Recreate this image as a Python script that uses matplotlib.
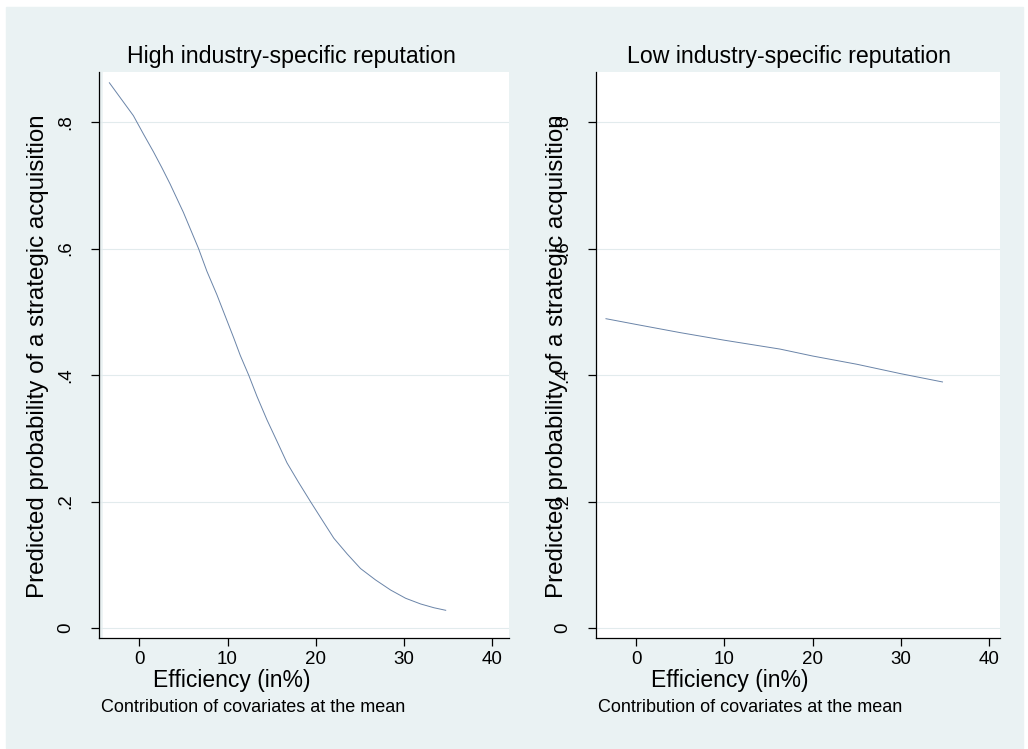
import matplotlib
matplotlib.use("Agg")
import matplotlib.pyplot as plt
from matplotlib.patches import Rectangle

plt.rcParams['font.family'] = ['Liberation Sans', 'DejaVu Sans']

# values
eff_high = [-3.39, -0.67, 0.47, 1.6, 2.55, 3.49, 5.0, 6.71, 7.66, 8.79, 9.74,
            10.69, 11.44, 12.39, 13.34, 14.47, 15.61, 16.74, 18.06, 19.39,
            20.71, 22.04, 23.56, 25.07, 26.77, 28.48, 30.18, 31.88, 33.39, 34.72]
prob_high = [0.862, 0.81, 0.781, 0.753, 0.728, 0.702, 0.657, 0.6, 0.564, 0.527, 0.493,
             0.459, 0.431, 0.4, 0.366, 0.329, 0.295, 0.261, 0.230, 0.2,
             0.171, 0.142, 0.117, 0.094, 0.076, 0.06, 0.047, 0.038, 0.032, 0.028]
eff_low = [-3.4, 0, 5, 10, 16.3, 20, 25, 30, 34.7]
prob_low = [0.489, 0.480, 0.467, 0.455, 0.441, 0.430, 0.417, 0.402, 0.389]

titles = ["High industry-specific reputation", "Low industry-specific reputation"]
xticks = [0, 10, 20, 30, 40]
yticks = [0, 0.2, 0.4, 0.6, 0.8]
ytick_labels = ["0", ".2", ".4", ".6", ".8"]
xlab = "Efficiency (in%)"
ylab = "Predicted probability of a strategic acquisition"
note = "Contribution of covariates at the mean"

bg = "#eaf2f3"
linec = "#6a84a8"
W, H = 1028, 749

fig = plt.figure(figsize=(W / 100, H / 100), dpi=100, facecolor="white")
fig.patches.append(Rectangle((6 / W, 1 - 748 / H), 1017 / W, 741 / H,
                             transform=fig.transFigure, color=bg, zorder=-10))

panels = [
    # axes left px, right px, x of 0 tick, px per unit, white gap
    (99, 509, 139.3, 8.825, 4),
    (596, 1000, 636.0, 8.8325, 0),
]
data = [(eff_high, prob_high), (eff_low, prob_low)]
title_x = [291.5, 789]
ylab_x = [44, 563]
xlab_x = [153, 651]
note_x = [101, 598]

top, bottom = 72, 638
y0, yscale = 628, 632.5

for i, (l, r, x0, xs, gap) in enumerate(panels):
    ax = fig.add_axes([l / W, 1 - bottom / H, (r - l) / W, (bottom - top) / H])
    ax.set_facecolor(bg)
    ax.add_patch(Rectangle((gap / (r - l), 0), 1, 1, transform=ax.transAxes,
                           color="white", zorder=0))
    ax.set_xlim((l - x0) / xs, (r - x0) / xs)
    ax.set_ylim((y0 - bottom) / yscale, (y0 - top) / yscale)
    ax.grid(axis="y", color="#e2ebed", lw=0.8, zorder=1)
    ax.set_axisbelow(True)
    x, y = data[i]
    ax.plot(x, y, color=linec, lw=0.7, zorder=3)

    for s in ["top", "right"]:
        ax.spines[s].set_visible(False)
    for s in ["left", "bottom"]:
        ax.spines[s].set_linewidth(0.9)
        ax.spines[s].set_color("black")

    ax.set_xticks(xticks)
    ax.set_xticklabels([str(t) for t in xticks])
    ax.set_yticks(yticks)
    ax.set_yticklabels(ytick_labels)
    ax.tick_params(axis="both", direction="out", length=5.8, width=0.9,
                   labelsize=13.5, colors="black")
    ax.tick_params(axis="x", pad=3.3)
    ax.tick_params(axis="y", pad=15.1)
    for lab in ax.get_yticklabels():
        lab.set_rotation(90)
        lab.set_rotation_mode("anchor")
        lab.set_ha("center")
        lab.set_va("baseline")

    fig.text(title_x[i] / W, 1 - 63 / H, titles[i], fontsize=16.7,
             ha="center", va="baseline")
    fig.text(ylab_x[i] / W, 1 - 356 / H, ylab, fontsize=17.4, rotation=90,
             rotation_mode="anchor", ha="center", va="baseline")
    fig.text(xlab_x[i] / W, 1 - 687 / H, xlab, fontsize=16.5,
             ha="left", va="baseline")
    fig.text(note_x[i] / W, 1 - 712 / H, note, fontsize=13,
             ha="left", va="baseline")

fig.savefig("out.png", dpi=100, facecolor="white")
